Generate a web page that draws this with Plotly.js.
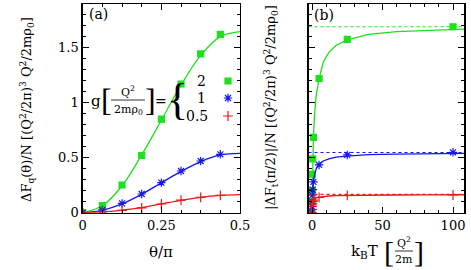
<!DOCTYPE html>
<html><head><meta charset="utf-8">
<script src="https://cdn.plot.ly/plotly-3.0.1.min.js"></script>
<style>html,body{margin:0;padding:0;background:#fff}#c{width:471px;height:270px}</style>
</head><body><div id="c"></div>
<script>
// ---------- panel (a) data ----------
const thetaPts = [0, 0.0625, 0.125, 0.1875, 0.25, 0.3125, 0.375, 0.4375];
const aGreen = [0, 0.064, 0.252, 0.52, 0.85, 1.17, 1.443, 1.62];
const aBlue  = [0, 0.025, 0.085, 0.17, 0.273, 0.379, 0.47, 0.531];
const aRed   = [0, 0.007, 0.022, 0.043, 0.079, 0.115, 0.14, 0.158];
const thetaCurve = [0, 0.0625, 0.125, 0.1875, 0.25, 0.3125, 0.375, 0.4375, 0.5];
const aGreenCurve = [0, 0.063, 0.245, 0.525, 0.84, 1.16, 1.43, 1.6, 1.645];
const aBlueCurve  = [0, 0.022, 0.08, 0.168, 0.272, 0.375, 0.465, 0.525, 0.54];
const aRedCurve   = [0, 0.007, 0.024, 0.047, 0.08, 0.113, 0.14, 0.157, 0.164];

// ---------- panel (b) data ----------
const kTPts = [0, 0.05, 0.1, 0.25, 0.5, 1, 5, 25, 100];
const bGreen = [0, 0.1, 0.2, 0.35, 0.49, 0.685, 1.22, 1.576, 1.69];
const bBlue  = [0, 0.055, 0.1, 0.16, 0.21, 0.28, 0.434, 0.525, 0.549];
const bRed   = [0, 0.03, 0.06, 0.08, 0.1, 0.115, 0.14, 0.157, 0.161];
const kTCurve = [0, 0.25, 0.5, 1, 2, 3, 5, 8, 12, 17, 25, 40, 60, 80, 100, 108];
const bGreenCurve = [0, 0.33, 0.5, 0.7, 0.93, 1.07, 1.22, 1.37, 1.46, 1.52, 1.57, 1.62, 1.645, 1.657, 1.665, 1.668];
const bBlueCurve  = [0, 0.15, 0.21, 0.28, 0.36, 0.4, 0.44, 0.47, 0.49, 0.505, 0.515, 0.527, 0.533, 0.536, 0.538, 0.539];
const bRedCurve   = [0, 0.07, 0.09, 0.11, 0.125, 0.135, 0.142, 0.148, 0.152, 0.155, 0.157, 0.16, 0.161, 0.162, 0.162, 0.163];
const asymptotes = [1.69, 0.547, 0.166];
const kTRange = [-2.5, 108];

const gLabels = ['2', '1', '0.5'];
const colors = ['#1ee01e', '#1515f0', '#f01515'];
const symbols = ['square', 'asterisk-open', 'cross-thin-open'];
const msizes = [6, 7, 7];

const F = '"DejaVu Serif", "Liberation Serif", serif';
const FT = '"Liberation Serif", serif';
const traces = [];
const aSets = [[aGreen, aGreenCurve], [aBlue, aBlueCurve], [aRed, aRedCurve]];
const bSets = [[bGreen, bGreenCurve], [bBlue, bBlueCurve], [bRed, bRedCurve]];
for (let i = 0; i < 3; i++) {
  traces.push({x: thetaCurve, y: aSets[i][1], mode: 'lines', line: {color: colors[i], width: 1.3, shape: 'spline'}, showlegend: false, xaxis: 'x', yaxis: 'y'});
  traces.push({x: thetaPts, y: aSets[i][0], mode: 'markers', name: ' ',
    marker: {symbol: symbols[i], size: msizes[i], color: colors[i], line: {color: colors[i], width: 1.2}},
    showlegend: true, legend: i === 0 ? 'legend' : 'legend' + (i + 1), xaxis: 'x', yaxis: 'y'});
}
for (let i = 0; i < 3; i++) {
  traces.push({x: kTRange, y: [asymptotes[i], asymptotes[i]], mode: 'lines', line: {color: colors[i], width: 1.2, dash: 'dot'}, showlegend: false, xaxis: 'x2', yaxis: 'y2'});
  traces.push({x: kTCurve, y: bSets[i][1], mode: 'lines', line: {color: colors[i], width: 1.3}, showlegend: false, xaxis: 'x2', yaxis: 'y2'});
  traces.push({x: kTPts, y: bSets[i][0], mode: 'markers',
    marker: {symbol: symbols[i], size: msizes[i], color: colors[i], line: {color: colors[i], width: 1.2}},
    showlegend: false, xaxis: 'x2', yaxis: 'y2'});
}

const W = 471, H = 270;
const px = v => v / W, py = v => 1 - v / H;
const axBase = {showline: true, linecolor: '#000', linewidth: 1.4, mirror: 'allticks', ticks: 'inside',
  ticklen: 6, tickwidth: 1, tickcolor: '#000', showgrid: false, zeroline: false,
  tickfont: {family: F, size: 13, color: '#000'}};
const leg = (yy) => ({x: px(208), y: py(yy), xanchor: 'left', yanchor: 'middle', bgcolor: 'rgba(0,0,0,0)',
  font: {family: F, size: 12}, itemwidth: 30, tracegroupgap: 0});
const ann = (text, x, y, size, extra) => Object.assign({text: text, x: px(x), y: py(y), xref: 'paper', yref: 'paper',
  xanchor: 'center', yanchor: 'middle', showarrow: false, font: {family: F, size: size, color: '#000'}}, extra || {});

const layout = {
  width: W, height: H, margin: {l: 0, r: 0, t: 0, b: 0},
  paper_bgcolor: '#fff', plot_bgcolor: '#fff', font: {family: F, color: '#000'},
  xaxis: Object.assign({}, axBase, {domain: [px(82.7), px(240)], range: [0, 0.5], dtick: 0.25,
    minor: {ticks: 'inside', dtick: 0.0625, ticklen: 3, tickcolor: '#000'}, anchor: 'y'}),
  yaxis: Object.assign({}, axBase, {domain: [1 - 212.7 / H, 1 - 4 / H], range: [0, 1.897], dtick: 0.5,
    minor: {ticks: 'inside', dtick: 0.1, ticklen: 3, tickcolor: '#000'}, anchor: 'x'}),
  xaxis2: Object.assign({}, axBase, {domain: [px(308.5), px(464.3)], range: kTRange, tickvals: [0, 50, 100],
    minor: {ticks: 'inside', dtick: 10, tick0: 0, ticklen: 3, tickcolor: '#000'}, anchor: 'y2'}),
  yaxis2: Object.assign({}, axBase, {domain: [1 - 212.7 / H, 1 - 4 / H], range: [0, 1.897], dtick: 0.5,
    showticklabels: false,
    minor: {ticks: 'inside', dtick: 0.1, ticklen: 3, tickcolor: '#000'}, anchor: 'x2'}),
  legend: leg(81), legend2: leg(98), legend3: leg(116),
  annotations: [
    // axis titles
    ann('ΔF<sub>q</sub>(θ)/N [(Q<sup>2</sup>/2π)<sup>3</sup> Q<sup>2</sup>/2mρ<sub>0</sub>]', 27, 110, 13, {textangle: -90}),
    ann('|ΔF<sub>t</sub>(π/2)|/N [(Q<sup>2</sup>/2π)<sup>3</sup> Q<sup>2</sup>/2mρ<sub>0</sub>]', 271, 108, 13, {textangle: -90}),
    ann('θ/π', 161, 252, 15),
    ann('k<sub>B</sub>T', 364, 251, 15),
    ann('[', 389, 251, 28, {font: {family: FT, size: 30, color: '#000'}}),
    ann('Q<sup>2</sup>', 404, 242, 11),
    ann('2m', 404, 259, 11),
    ann(']', 419, 251, 28, {font: {family: FT, size: 30, color: '#000'}}),
    // panel labels
    ann('(a)', 98, 14, 14),
    ann('(b)', 324, 15, 14),
    // legend heading
    ann('g', 96, 101, 15),
    ann('[', 106, 100, 30, {font: {family: FT, size: 32, color: '#000'}}),
    ann('Q<sup>2</sup>', 128, 91, 11),
    ann('2mρ<sub>0</sub>', 128, 110, 11),
    ann(']', 150, 100, 30, {font: {family: FT, size: 32, color: '#000'}}),
    ann('=', 161, 101, 14),
    ann('{', 177, 99, 44, {font: {family: FT, size: 44, color: '#000'}}),
    ann(gLabels[0], 208, 81, 14, {xanchor: 'right'}),
    ann(gLabels[1], 208, 98, 14, {xanchor: 'right'}),
    ann(gLabels[2], 210, 116, 14, {xanchor: 'right'})
  ],
  shapes: [
    {type: 'line', xref: 'paper', yref: 'paper', x0: px(111), x1: px(145), y0: py(100), y1: py(100), line: {color: '#000', width: 0.8}},
    {type: 'line', xref: 'paper', yref: 'paper', x0: px(395), x1: px(413), y0: py(251), y1: py(251), line: {color: '#000', width: 0.8}}
  ]
};
Plotly.newPlot('c', traces, layout, {staticPlot: true});
</script></body></html>
